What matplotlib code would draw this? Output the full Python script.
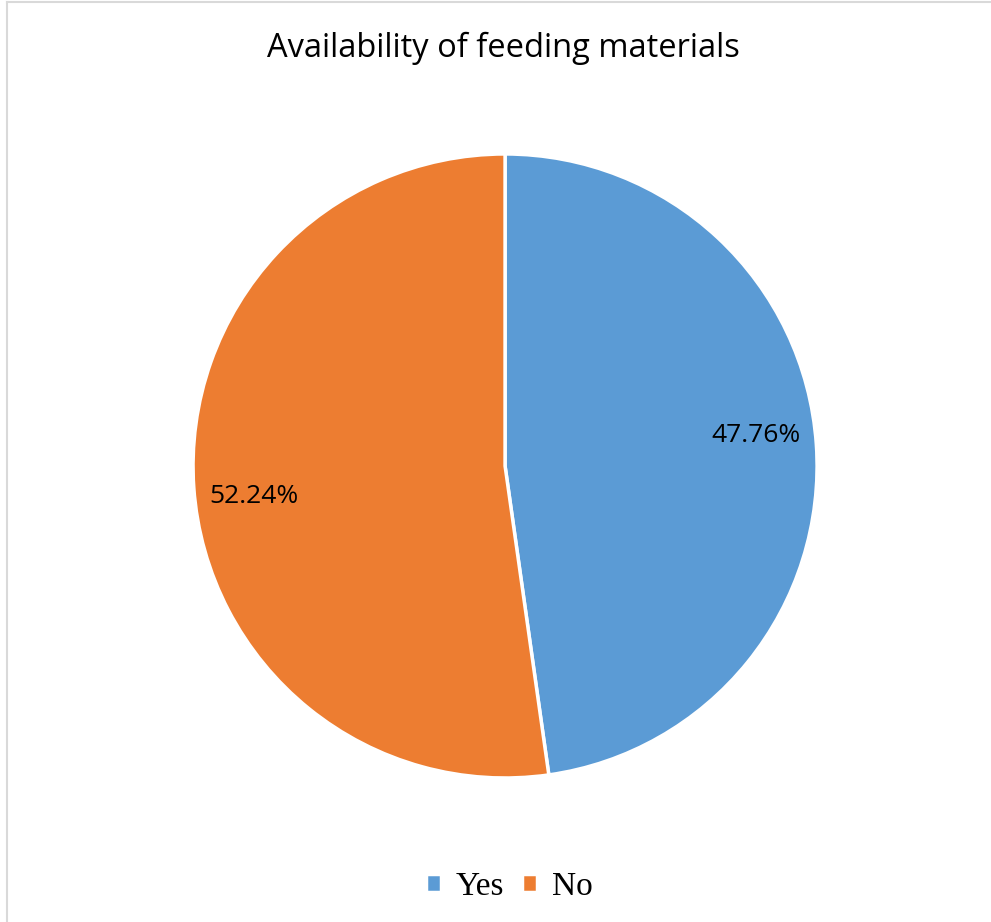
import matplotlib
matplotlib.use("Agg")
import numpy as np
import matplotlib.pyplot as plt
from matplotlib.lines import Line2D

labels = ["Yes", "No"]
values = [47.76, 52.24]
colors = ["#5b9bd5", "#ed7d31"]
title = "Availability of feeding materials"

fig = plt.figure(figsize=(9.91, 9.22), dpi=100)
ax = fig.add_axes([0.1948, 0.1562, 0.6297, 0.6768])

wedges, texts, autotexts = ax.pie(
    values, colors=colors, startangle=90, counterclock=False,
    autopct="%.2f%%", pctdistance=0.81,
    wedgeprops=dict(edgecolor="white", linewidth=2.5),
    textprops=dict(fontfamily="Open Sans", fontsize=19, color="black"),
)
# nudge the percentage labels a bit, like the original's placement
for w, t in zip(wedges, autotexts):
    ang = np.deg2rad((w.theta1 + w.theta2) / 2 + 3)
    t.set_position((0.81 * np.cos(ang), 0.81 * np.sin(ang)))

ax.set_xlim(-1, 1)
ax.set_ylim(-1, 1)
ax.set_aspect("equal")
ax.axis("off")

fig.text(0.508, 0.947, title, ha="center", va="center",
         fontfamily="Open Sans", fontsize=23.5)

fig.legend(wedges, labels, loc="center", bbox_to_anchor=(0.514, 0.038),
           ncol=2, frameon=False, handlelength=0.45, handleheight=0.45,
           handletextpad=0.45, columnspacing=0.55,
           prop=dict(family="Liberation Serif", size=24))

# chart border (left and top edges visible)
fig.add_artist(Line2D([7 / 991, 7 / 991], [0, 1 - 2 / 922], color="#d9d9d9", lw=1.5))
fig.add_artist(Line2D([7 / 991, 1], [1 - 2 / 922, 1 - 2 / 922], color="#d9d9d9", lw=1.5))

fig.savefig("out.png", dpi=100)
